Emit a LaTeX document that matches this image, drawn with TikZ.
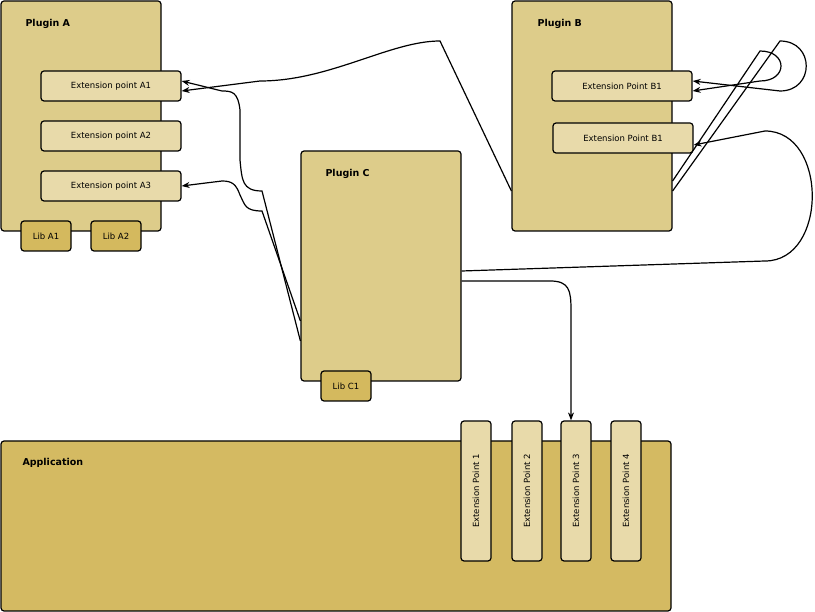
\documentclass[tikz,border=0pt]{standalone}
\usepackage{fontspec}
\setmainfont{DejaVu Sans}
\usetikzlibrary{arrows.meta}
\definecolor{plugincolor}{HTML}{DDCC8A}
\definecolor{extcolor}{HTML}{E8DAAA}
\definecolor{libcolor}{HTML}{D4B95E}
\definecolor{appcolor}{HTML}{D4BA62}
\tikzset{
 box/.style={draw=black,line width=1.2pt,rounded corners=3pt,inner sep=0pt},
 plugin/.style={box,fill=plugincolor,minimum width=160pt,minimum height=230pt},
 ext/.style={box,fill=extcolor,minimum width=140pt,minimum height=30pt,font=\fontsize{8.5}{10}\selectfont},
 vext/.style={box,fill=extcolor,minimum width=30pt,minimum height=140pt,font=\fontsize{8.5}{10}\selectfont},
 lib/.style={box,fill=libcolor,minimum width=50pt,minimum height=30pt,font=\fontsize{8.5}{10}\selectfont},
 title/.style={anchor=west,font=\bfseries\fontsize{9.5}{11}\selectfont},
 link/.style={line width=1.2pt,-{Stealth[length=8pt,width=6pt]}}
}
\begin{document}
\begin{tikzpicture}[x=1pt,y=-1pt]
 \useasboundingbox (0,0) rectangle (815,612);
 % plugins
 \node[plugin] (pA) at (81,116) {};
 \node[title] at (22,24) {Plugin A};
 \node[plugin] (pB) at (592,116) {};
 \node[title] at (534,24) {Plugin B};
 \node[plugin] (pC) at (381,266) {};
 \node[title] at (322,174) {Plugin C};
 % extension points of A and B
 \node[ext] (eA1) at (111,86) {Extension point A1};
 \node[ext] (eA2) at (111,136) {Extension point A2};
 \node[ext] (eA3) at (111,186) {Extension point A3};
 \node[ext] (eB1) at (622,86) {Extension Point B1};
 \node[ext] (eB2) at (623,138) {Extension Point B1};
 % libraries
 \node[lib] (lA1) at (46,236) {Lib A1};
 \node[lib] (lA2) at (116,236) {Lib A2};
 \node[lib] (lC1) at (346,386) {Lib C1};
 % application
 \node[box,fill=appcolor,minimum width=670pt,minimum height=170pt] (app) at (336,526) {};
 \node[title] at (19,463) {Application};
 \foreach \x/\n in {476/1,527/2,576/3,626/4}
  \node[vext] (ep\n) at (\x,491) {\rotatebox{90}{Extension Point \n}};
 % connectors
 \draw[link] ([yshift=-75pt]pB.west) -- (440,41) .. controls (390,41) and (330,81) .. (260,81) -- ([yshift=-5pt]eA1.east);
 \draw[link] ([yshift=-75pt]pC.west) -- (262,191) .. controls (242,191) and (242,180) .. (240,160) -- (240,110) .. controls (238,92) and (232,91) .. (222,91) -- ([yshift=5pt]eA1.east);
 \draw[link] ([yshift=-55pt]pC.west) -- (262,211) .. controls (245,211) and (245,205) .. (240,195) .. controls (236,184) and (232,181) .. (222,181) -- (eA3.east);
 \draw[link] ([yshift=-75pt]pB.east) -- (780,41) .. controls (815,41) and (815,91) .. (780,91) -- ([yshift=5pt]eB1.east);
 \draw[link] ([yshift=-65pt]pB.east) -- (760,51) .. controls (788,51) and (788,81) .. (760,81) -- ([yshift=-5pt]eB1.east);
 \draw[link] ([yshift=-5pt]pC.east) -- (765,261) .. controls (828,261) and (828,131) .. (765,131) -- ([yshift=-7pt]eB2.east);
 \draw[link] ([yshift=-15pt]pC.east) -- (550,281) .. controls (569,281) and (571,290) .. (571,310) -- ([xshift=-5pt]ep3.north);
\end{tikzpicture}
\end{document}
